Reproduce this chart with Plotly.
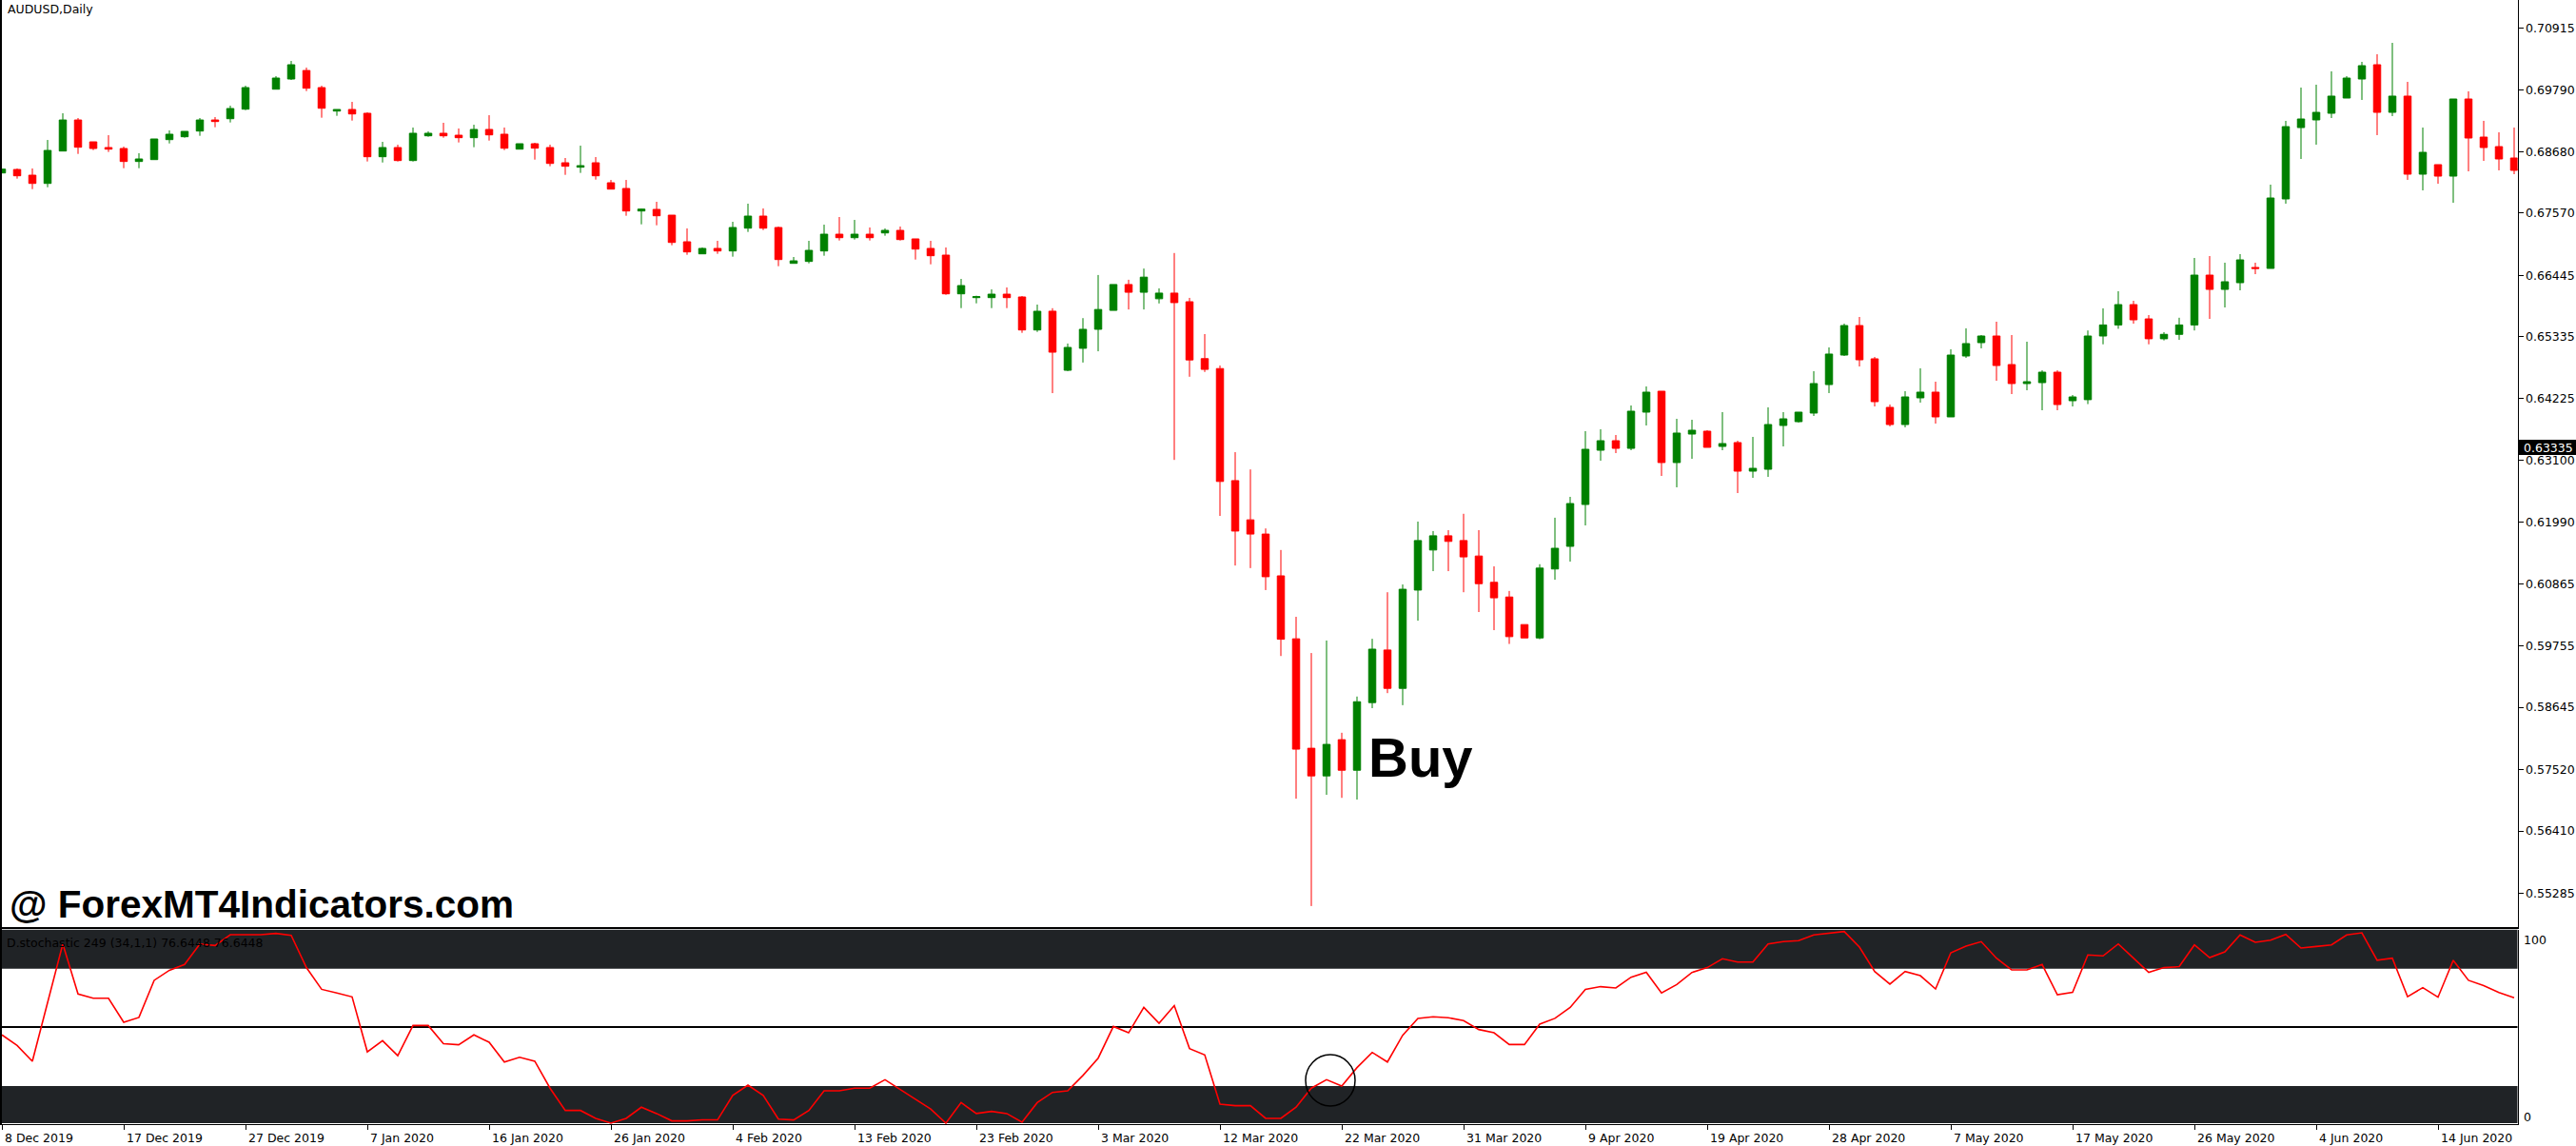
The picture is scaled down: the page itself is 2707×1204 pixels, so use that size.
import plotly.graph_objects as go

W, H = 2707, 1204

# ---------------- data (AUDUSD daily) ----------------
open_ = [
    0.68295, 0.68358, 0.68255, 0.68106, 0.68691, 0.69252, 0.68857, 0.68754, 0.68737, 0.68502,
    0.68536, 0.68897, 0.68949, 0.69052, 0.69252, 0.69275, 0.69447, None, 0.69808, 0.69992,
    0.70146, 0.69837, 0.69413, 0.69442, 0.69373, 0.68588, 0.68754, 0.68519, 0.68966, 0.69012,
    0.68977, 0.68932, 0.69081, 0.68995, 0.68725, 0.68823, 0.68754, 0.68479, 0.68399, 0.68479,
    0.68118, 0.68015, 0.67608, 0.67637, 0.67533, 0.67052, 0.66834, 0.66932, 0.66886, 0.67298,
    0.67516, 0.67310, 0.66662, 0.66697, 0.66886, 0.67189, 0.67126, 0.67189, 0.67212, 0.67258,
    0.67104, 0.66932, 0.66811, 0.66112, 0.66043, 0.66043, 0.66106, 0.66055, 0.65459, 0.65798,
    0.64731, 0.65128, 0.65471, 0.65813, 0.66280, 0.66140, 0.66023, 0.66125, 0.65969, 0.64941,
    0.64762, 0.62738, 0.62030, 0.61773, 0.61018, 0.59881, 0.57904, 0.57405, 0.58059, 0.57507,
    0.58729, 0.59679, 0.58986, 0.60761, 0.61485, 0.61742, 0.61656, 0.61376, 0.60901, 0.60636,
    0.60138, 0.59897, 0.61142, 0.61551, 0.62307, 0.63287, 0.63459, 0.63321, 0.63975, 0.64353,
    0.63064, 0.63579, 0.63631, 0.63356, 0.63425, 0.62909, 0.62943, 0.63734, 0.63803, 0.63958,
    0.64473, 0.65006, 0.65539, 0.64938, 0.64061, 0.63751, 0.64233, 0.64336, 0.63889, 0.64989,
    0.65230, 0.65350, 0.64834, 0.64491, 0.64508, 0.64697, 0.64181, 0.64200, 0.65350, 0.65550,
    0.65917, 0.65659, 0.65300, 0.65380, 0.65550, 0.66450, 0.66192, 0.66313, 0.66588, 0.66571,
    0.67826, 0.69115, 0.69253, 0.69373, 0.69648, 0.69992, 0.70250, 0.69390, 0.69683, 0.68273,
    0.68445, 0.68238, 0.69631, 0.68943, 0.68771, 0.68565,
]
high = [
    0.68370, 0.68376, 0.68376, 0.68891, 0.69373, 0.69287, 0.68857, 0.68977, 0.68771, 0.68651,
    0.68909, 0.69063, 0.69046, 0.69287, 0.69304, 0.69510, 0.69871, None, 0.70043, 0.70318,
    0.70198, 0.69871, 0.69442, 0.69579, 0.69390, 0.68857, 0.68805, 0.69115, 0.69046, 0.69201,
    0.69098, 0.69166, 0.69338, 0.69115, 0.68823, 0.68840, 0.68806, 0.68565, 0.68788, 0.68582,
    0.68169, 0.68169, 0.67654, 0.67774, 0.67533, 0.67293, 0.66949, 0.67069, 0.67413, 0.67740,
    0.67654, 0.67327, 0.66777, 0.67069, 0.67361, 0.67499, 0.67447, 0.67310, 0.67293, 0.67327,
    0.67104, 0.67069, 0.66949, 0.66381, 0.66078, 0.66192, 0.66227, 0.66072, 0.65917, 0.65852,
    0.65214, 0.65673, 0.66452, 0.66280, 0.66366, 0.66568, 0.66210, 0.66849, 0.66039, 0.65385,
    0.64817, 0.63252, 0.62940, 0.61874, 0.61485, 0.60278, 0.59624, 0.59850, 0.58184, 0.58838,
    0.59881, 0.60722, 0.60862, 0.61998, 0.61827, 0.61843, 0.62139, 0.61843, 0.61189, 0.60745,
    0.60138, 0.61228, 0.62068, 0.62445, 0.63631, 0.63665, 0.63562, 0.64095, 0.64439, 0.64353,
    0.63854, 0.63837, 0.63648, 0.63975, 0.63459, 0.63528, 0.64061, 0.63975, 0.63975, 0.64714,
    0.65144, 0.65574, 0.65694, 0.64972, 0.64112, 0.64353, 0.64766, 0.64525, 0.65110, 0.65488,
    0.65367, 0.65608, 0.65367, 0.65247, 0.64731, 0.64731, 0.64284, 0.65450, 0.65849, 0.66158,
    0.65986, 0.65728, 0.65420, 0.65680, 0.66760, 0.66794, 0.66674, 0.66829, 0.66674, 0.68084,
    0.69236, 0.69837, 0.69889, 0.70130, 0.70044, 0.70302, 0.70439, 0.70645, 0.69940, 0.69115,
    0.68445, 0.69631, 0.69769, 0.69236, 0.69029, 0.69115,
]
low = [
    0.68290, 0.68192, 0.68003, 0.68037, 0.68691, 0.68639, 0.68708, 0.68674, 0.68381, 0.68381,
    0.68536, 0.68828, 0.68932, 0.68966, 0.69121, 0.69207, 0.69430, None, 0.69808, 0.69975,
    0.69774, 0.69293, 0.69327, 0.69241, 0.68502, 0.68484, 0.68502, 0.68502, 0.68949, 0.68932,
    0.68846, 0.68760, 0.68880, 0.68708, 0.68725, 0.68536, 0.68416, 0.68261, 0.68296, 0.68175,
    0.68003, 0.67522, 0.67367, 0.67350, 0.66989, 0.66817, 0.66834, 0.66834, 0.66783, 0.67230,
    0.67264, 0.66611, 0.66662, 0.66662, 0.66800, 0.67075, 0.67092, 0.67075, 0.67161, 0.67075,
    0.66731, 0.66645, 0.66095, 0.65854, 0.65940, 0.65854, 0.65854, 0.65407, 0.65424, 0.64318,
    0.64715, 0.64871, 0.65074, 0.65813, 0.65829, 0.65829, 0.65938, 0.63112, 0.64614, 0.64700,
    0.62100, 0.61204, 0.61158, 0.60761, 0.59570, 0.56993, 0.55054, 0.57063, 0.57008, 0.56977,
    0.58628, 0.58900, 0.58682, 0.60208, 0.61103, 0.61103, 0.60722, 0.60364, 0.60037, 0.59788,
    0.59897, 0.59873, 0.60948, 0.61275, 0.61929, 0.63098, 0.63235, 0.63287, 0.63734, 0.62823,
    0.62617, 0.63132, 0.63339, 0.63287, 0.62513, 0.62788, 0.62806, 0.63356, 0.63786, 0.63906,
    0.64319, 0.64989, 0.64800, 0.64078, 0.63717, 0.63700, 0.64147, 0.63768, 0.63889, 0.64955,
    0.65127, 0.64542, 0.64301, 0.64370, 0.64009, 0.64009, 0.64078, 0.64120, 0.65200, 0.65480,
    0.65573, 0.65200, 0.65270, 0.65280, 0.65450, 0.65659, 0.65866, 0.66175, 0.66467, 0.66571,
    0.67740, 0.68548, 0.68806, 0.69287, 0.69648, 0.69614, 0.68978, 0.69322, 0.68170, 0.67980,
    0.68101, 0.67757, 0.68324, 0.68513, 0.68342, 0.68273,
]
close = [
    0.68364, 0.68244, 0.68106, 0.68702, 0.69252, 0.68760, 0.68737, 0.68725, 0.68502, 0.68548,
    0.68909, 0.68995, 0.69046, 0.69252, 0.69224, 0.69459, 0.69837, None, 0.70009, 0.70250,
    0.69826, 0.69464, 0.69442, 0.69361, 0.68588, 0.68754, 0.68519, 0.69012, 0.69012, 0.68966,
    0.68932, 0.69081, 0.68983, 0.68742, 0.68823, 0.68743, 0.68467, 0.68416, 0.68427, 0.68244,
    0.68003, 0.67608, 0.67642, 0.67522, 0.67040, 0.66869, 0.66932, 0.66886, 0.67310, 0.67516,
    0.67298, 0.66731, 0.66708, 0.66897, 0.67189, 0.67126, 0.67189, 0.67126, 0.67258, 0.67092,
    0.66920, 0.66800, 0.66112, 0.66261, 0.66060, 0.66106, 0.66043, 0.65459, 0.65797, 0.65058,
    0.65144, 0.65471, 0.65829, 0.66280, 0.66140, 0.66413, 0.66125, 0.65953, 0.64918, 0.64747,
    0.62723, 0.61827, 0.61773, 0.61002, 0.59873, 0.57888, 0.57405, 0.57974, 0.57507, 0.58744,
    0.59694, 0.58986, 0.60776, 0.61656, 0.61742, 0.61640, 0.61360, 0.60877, 0.60621, 0.59920,
    0.59897, 0.61158, 0.61516, 0.62324, 0.63304, 0.63459, 0.63321, 0.63992, 0.64336, 0.63064,
    0.63597, 0.63648, 0.63339, 0.63407, 0.62909, 0.62960, 0.63751, 0.63854, 0.63975, 0.64491,
    0.65024, 0.65539, 0.64920, 0.64164, 0.63751, 0.64250, 0.64336, 0.63889, 0.65006, 0.65213,
    0.65350, 0.64817, 0.64491, 0.64525, 0.64697, 0.64112, 0.64250, 0.65350, 0.65550, 0.65917,
    0.65642, 0.65300, 0.65380, 0.65550, 0.66450, 0.66192, 0.66330, 0.66725, 0.66571, 0.67843,
    0.69132, 0.69270, 0.69390, 0.69683, 0.70009, 0.70233, 0.69390, 0.69683, 0.68273, 0.68668,
    0.68238, 0.69631, 0.68926, 0.68754, 0.68548, 0.68342,
]
stoch = [
    45.9, 40.4, 32.2, 62.7, 93.2, 67.2, 65.0, 65.0, 52.5, 55.0,
    74.3, 79.5, 82.5, 93.2, 92.4, 98.0, 98.0, 98.0, 98.7, 97.7,
    80.9, 69.6, 67.7, 65.7, 37.1, 42.9, 35.1, 50.8, 50.8, 41.3,
    40.8, 45.9, 42.1, 31.8, 34.3, 32.2, 18.2, 6.6, 6.6, 2.5,
    0.0, 2.5, 8.3, 5.0, 1.2, 1.2, 1.7, 1.7, 14.4, 19.8,
    14.4, 2.1, 1.7, 6.6, 16.8, 16.8, 18.2, 18.2, 22.6, 17.3,
    12.4, 7.4, 0.0, 10.7, 5.0, 6.1, 5.0, 0.5, 10.7, 16.0,
    16.8, 24.8, 33.8, 50.3, 47.0, 60.2, 52.0, 61.1, 38.8, 35.5,
    9.9, 9.1, 9.1, 2.5, 2.5, 8.3, 18.2, 22.6, 19.3, 28.9,
    36.8, 31.8, 45.7, 54.5, 55.3, 54.8, 53.3, 48.7, 47.0, 40.9,
    40.9, 51.5, 54.5, 60.2, 69.6, 71.0, 70.3, 75.9, 78.5, 67.7,
    72.1, 78.4, 80.9, 85.5, 83.8, 83.8, 93.2, 94.4, 94.9, 97.9,
    98.7, 99.7, 91.6, 78.9, 72.3, 78.9, 76.7, 69.8, 88.6, 92.1,
    94.4, 85.8, 79.7, 79.7, 82.5, 66.8, 68.0, 87.5, 87.0, 93.2,
    85.8, 78.4, 80.9, 81.4, 92.7, 86.1, 89.1, 97.9, 94.1, 95.2,
    98.2, 91.1, 91.9, 92.7, 97.9, 99.0, 84.7, 85.8, 65.8, 70.5,
    65.5, 84.7, 74.3, 71.5, 68.0, 65.2,
]
date_labels = [
    "8 Dec 2019", "17 Dec 2019", "27 Dec 2019", "7 Jan 2020", "16 Jan 2020",
    "26 Jan 2020", "4 Feb 2020", "13 Feb 2020", "23 Feb 2020", "3 Mar 2020",
    "12 Mar 2020", "22 Mar 2020", "31 Mar 2020", "9 Apr 2020", "19 Apr 2020",
    "28 Apr 2020", "7 May 2020", "17 May 2020", "26 May 2020", "4 Jun 2020",
    "14 Jun 2020",
]
label_step = 8  # bars between date labels
price_ticks = [0.70915, 0.69790, 0.68680, 0.67570, 0.66445, 0.65335, 0.64225, 0.63100,
               0.61990, 0.60865, 0.59755, 0.58645, 0.57520, 0.56410, 0.55285]
current_price = 0.63335
stoch_levels = [20, 50, 80]
stoch_title = "D.stochastic 249 (34,1,1) 76.6448 76.6448"

# ---------------- geometry helpers ----------------
def px(x):
    return x / W

def py(y):
    return 1 - y / H

n = len(open_)
idx = [i for i in range(n) if open_[i] is not None]
X_RIGHT = 2645.5
BAR = 16.0
x_range = [-2 / BAR, (X_RIGHT - 2) / BAR]
MAIN_BOTTOM = 974
y_main_range = [0.54674, 0.71419]
IND_TOP, IND_BOT = 976.5, 1181
y_ind_range = [(1180 - IND_BOT) / 2.02, (1180 - IND_TOP) / 2.02]

FONT = "DejaVu Sans"
BOLD = "Liberation Sans, Arial, sans-serif"

fig = go.Figure()
fig.add_trace(go.Candlestick(
    x=idx,
    open=[open_[i] for i in idx], high=[high[i] for i in idx],
    low=[low[i] for i in idx], close=[close[i] for i in idx],
    increasing=dict(line=dict(color="#008000", width=1), fillcolor="#008000"),
    decreasing=dict(line=dict(color="#ff0000", width=1), fillcolor="#ff0000"),
    whiskerwidth=0, hoverinfo="skip", xaxis="x", yaxis="y",
))
fig.add_trace(go.Scatter(
    x=list(range(n)), y=stoch, mode="lines",
    line=dict(color="#ff0000", width=1.6), hoverinfo="skip",
    xaxis="x2", yaxis="y2",
))

shapes = []
band = "#202326"
shapes.append(dict(type="rect", xref="paper", yref="y2", x0=0, x1=px(X_RIGHT),
                   y0=80.3, y1=y_ind_range[1], fillcolor=band, line=dict(width=0), layer="below"))
shapes.append(dict(type="rect", xref="paper", yref="y2", x0=0, x1=px(X_RIGHT),
                   y0=0, y1=19.3, fillcolor=band, line=dict(width=0), layer="below"))
shapes.append(dict(type="line", xref="paper", yref="y2", x0=0, x1=px(X_RIGHT),
                   y0=stoch_levels[1], y1=stoch_levels[1], line=dict(color="black", width=2), layer="below"))
# left frame
shapes.append(dict(type="line", xref="paper", yref="paper", x0=px(1), x1=px(1),
                   y0=py(0), y1=py(IND_BOT), line=dict(color="black", width=2)))
# circle in the indicator window
shapes.append(dict(type="circle", xref="paper", yref="paper", x0=px(1372), x1=px(1424),
                   y0=py(1162), y1=py(1108), line=dict(color="black", width=1.5)))
# current price box
shapes.append(dict(type="rect", xref="paper", yref="paper", x0=px(2647), x1=px(2707),
                   y0=py(478), y1=py(462), fillcolor="black", line=dict(width=0)))

ann = []
ann.append(dict(text="AUDUSD,Daily", xref="paper", yref="paper", x=px(6), y=py(10),
                xanchor="left", yanchor="middle", showarrow=False,
                font=dict(family=FONT, size=12.5, color="black")))
for k, lab in enumerate(date_labels):
    ann.append(dict(text=lab, xref="x2", yref="paper", x=k * label_step, y=py(1195.5),
                    xanchor="left", yanchor="middle", xshift=1, showarrow=False,
                    font=dict(family=FONT, size=12.5, color="black")))
ann.append(dict(text="100", xref="paper", yref="paper", x=px(2650), y=py(987),
                xanchor="left", yanchor="middle", showarrow=False,
                font=dict(family=FONT, size=12.5, color="black")))
ann.append(dict(text="0", xref="paper", yref="paper", x=px(2650), y=py(1173),
                xanchor="left", yanchor="middle", showarrow=False,
                font=dict(family=FONT, size=12.5, color="black")))
ann.append(dict(text=stoch_title, xref="paper", yref="paper", x=px(5), y=py(990),
                xanchor="left", yanchor="middle", showarrow=False,
                font=dict(family=FONT, size=12.5, color="black")))
ann.append(dict(text="@ ForexMT4Indicators.com", xref="paper", yref="paper", x=px(8), y=py(950),
                xanchor="left", yanchor="middle", showarrow=False,
                font=dict(family=BOLD, size=40.5, color="black", weight="bold")))
ann.append(dict(text="Buy", xref="paper", yref="paper", x=px(1436), y=py(795),
                xanchor="left", yanchor="middle", showarrow=False,
                font=dict(family=BOLD, size=58, color="black", weight="bold")))
ann.append(dict(text=f"{current_price:.5f}", xref="paper", yref="paper", x=px(2650), y=py(470),
                xanchor="left", yanchor="middle", showarrow=False,
                font=dict(family=FONT, size=12.5, color="white")))

fig.update_layout(
    width=W, height=H, margin=dict(l=0, r=0, t=0, b=0),
    paper_bgcolor="white", plot_bgcolor="white", showlegend=False,
    boxgap=0.33, shapes=shapes, annotations=ann,
    xaxis=dict(domain=[0, px(X_RIGHT)], range=x_range, showticklabels=False, showgrid=False,
               zeroline=False, showline=True, linecolor="black", linewidth=2, ticks="",
               rangeslider=dict(visible=False), fixedrange=True, anchor="y"),
    yaxis=dict(domain=[py(MAIN_BOTTOM), 1], range=y_main_range, side="right", showgrid=False,
               zeroline=False, showline=True, linecolor="black", linewidth=1,
               ticks="outside", ticklen=5, tickcolor="black", tickwidth=1,
               tickvals=price_ticks, ticktext=[f"{v:.5f}" for v in price_ticks],
               tickfont=dict(family=FONT, size=12.5, color="black"), fixedrange=True, anchor="x"),
    xaxis2=dict(domain=[0, px(X_RIGHT)], range=x_range, showticklabels=False, showgrid=False,
                zeroline=False, showline=True, linecolor="black", linewidth=1,
                ticks="outside", ticklen=5, tickcolor="black",
                tickvals=[k * label_step for k in range(len(date_labels))],
                fixedrange=True, anchor="y2"),
    yaxis2=dict(domain=[py(IND_BOT), py(IND_TOP)], range=y_ind_range, side="right",
                showticklabels=False, showgrid=False, zeroline=False, showline=True,
                linecolor="black", linewidth=1, ticks="", fixedrange=True, anchor="x2"),
)

fig.write_html("out.html", config={"displayModeBar": False},
               post_script="document.body.style.margin='0';document.body.style.overflow='hidden';")
